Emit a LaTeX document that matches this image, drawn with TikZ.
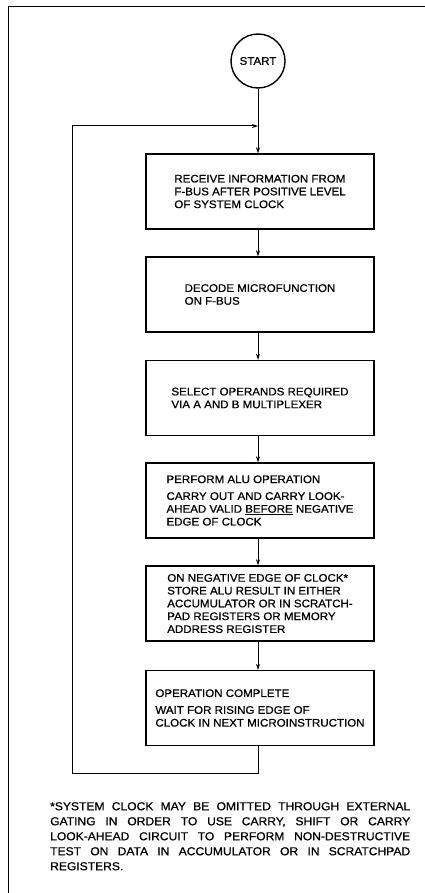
\documentclass[tikz,border=0pt]{standalone}
\usepackage{fontspec}
\setmainfont{Liberation Sans}[FakeStretch=1.05, FakeBold=0.8]
\usetikzlibrary{arrows.meta}
\begin{document}
\begin{tikzpicture}[x=1pt,y=-1pt,
  box/.style={draw, line width=1.4pt, minimum width=228pt, minimum height=75pt,
    align=left, inner sep=0pt, font=\fontsize{11}{12.8}\selectfont},
  flow/.style={line width=1pt, -{Stealth[length=6pt,width=4pt]}},
  loopline/.style={line width=1pt, -{Stealth[length=6pt,width=4pt]}},
  frame/.style={line width=0.8pt},
  notetext/.style={anchor=north west, inner sep=0pt, align=left,
    font=\fontsize{11.5}{15}\selectfont}
]
\useasboundingbox (0,0) rectangle (425,893);
\draw[frame] (8,893) -- (8,6) -- (425,6);
\node[circle, draw, line width=1.4pt, minimum size=54pt, inner sep=0pt,
  font=\fontsize{11}{12.8}\selectfont] (start) at (258,61) {START};
\node[box] (b1) at (260,191.5) {RECEIVE INFORMATION FROM\\F-BUS AFTER POSITIVE LEVEL\\OF SYSTEM CLOCK};
\node[box] (b2) at (260,294.5) {DECODE MICROFUNCTION\\ON F-BUS};
\node[box] (b3) at (260,398) {SELECT OPERANDS REQUIRED\\VIA A AND B MULTIPLEXER};
\node[box] (b4) at (260,500.5) {PERFORM ALU OPERATION\\[4pt]CARRY OUT AND CARRY LOOK-\\AHEAD VALID \underline{BEFORE} NEGATIVE\\EDGE OF CLOCK};
\node[box] (b5) at (260,603.5) {ON NEGATIVE EDGE OF CLOCK*\\STORE ALU RESULT IN EITHER\\ACCUMULATOR OR IN SCRATCH-\\PAD REGISTERS OR MEMORY\\ADDRESS REGISTER};
\node[box] (b6) at (260,708) {OPERATION COMPLETE\\[4pt]WAIT FOR RISING EDGE OF\\CLOCK IN NEXT MICROINSTRUCTION};
\coordinate (join) at (258,126);
\coordinate (loopbottom) at (72,773);
\draw[flow] (start.south) -- (b1.north -| start.south);
\draw[flow] (b1.south -| start.south) -- (b2.north -| start.south);
\draw[flow] (b2.south -| start.south) -- (b3.north -| start.south);
\draw[flow] (b3.south -| start.south) -- (b4.north -| start.south);
\draw[flow] (b4.south -| start.south) -- (b5.north -| start.south);
\draw[flow] (b5.south -| start.south) -- (b6.north -| start.south);
\draw[loopline] (b6.south -| start.south) |- (loopbottom) |- (join);
\node[notetext] (note) at (50,802) {%
\makebox[360pt][s]{*SYSTEM CLOCK MAY BE OMITTED THROUGH EXTERNAL}\\
\makebox[360pt][s]{GATING IN ORDER TO USE CARRY, SHIFT OR CARRY}\\
\makebox[360pt][s]{LOOK-AHEAD CIRCUIT TO PERFORM NON-DESTRUCTIVE}\\
\makebox[360pt][s]{TEST ON DATA IN ACCUMULATOR OR IN SCRATCHPAD}\\
REGISTERS.};
\end{tikzpicture}
\end{document}
